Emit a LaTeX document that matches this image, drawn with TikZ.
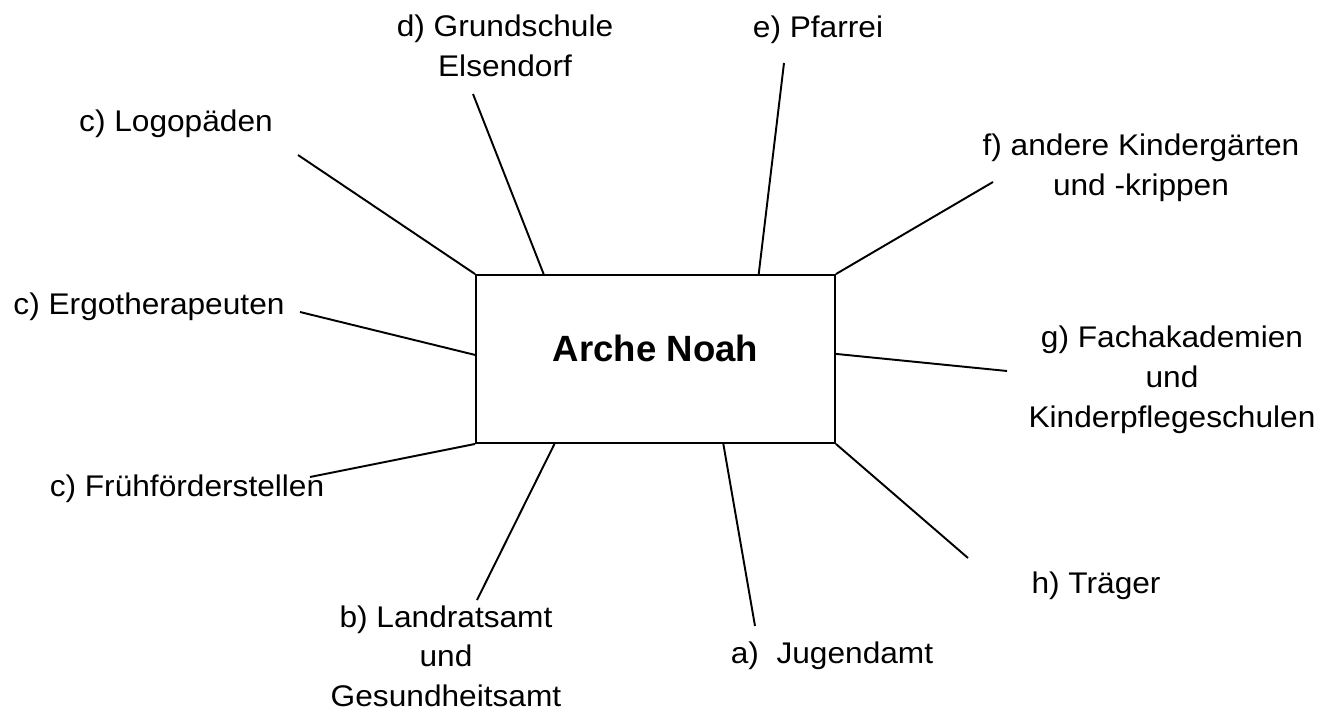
\documentclass[tikz,border=0pt]{standalone}
\usepackage{fontspec}
\setmainfont{Liberation Sans}[FakeStretch=1.06]
\newfontfamily\titlefont{Liberation Sans}
\usepackage{tikz}
\usetikzlibrary{positioning,calc}

\begin{document}
\begin{tikzpicture}[x=0.02cm, y=-0.02cm,
    lbl/.style={inner sep=0pt, align=center, font=\fontsize{17}{22.7}\selectfont},
    spoke/.style={line width=1.1pt}]
    \useasboundingbox (0,0) rectangle (1335,713);
    % center box
    \node [rectangle, draw, line width=1.1pt, minimum width=7.18cm, minimum height=3.36cm] (noah) at (655.5,359) {};
    \node [inner sep=0pt, font=\titlefont\bfseries\fontsize{20.8}{25}\selectfont] (noahtext) at (655.5,348) {Arche Noah};
    % labels
    \node [lbl, anchor=base] (logo) at (176,132) {c) Logopäden};
    \node [lbl, anchor=base] (ergo) at (149,314) {c) Ergotherapeuten};
    \node [lbl, anchor=base] (frueh) at (187,496) {c) Frühförderstellen};
    \node [lbl, anchor=north] (grund) at (505,15) {d) Grundschule\\Elsendorf};
    \node [lbl, anchor=base] (pfarrei) at (818,38) {e) Pfarrei};
    \node [lbl, anchor=north] (andere) at (1141,134) {f) andere Kindergärten\\und -krippen};
    \node [lbl, anchor=north] (fach) at (1172,326) {g) Fachakademien\\und\\Kinderpflegeschulen};
    \node [lbl, anchor=north] (land) at (446,605) {b) Landratsamt\\und\\Gesundheitsamt};
    \node [lbl, anchor=base] (jugend) at (832,663) {a)\ \ Jugendamt};
    \node [lbl, anchor=base] (traeger) at (1096,593) {h) Träger};
    % free ends of the spokes
    \coordinate (logoend) at (298,155);
    \coordinate (grundend) at (473,94);
    \coordinate (pfarreiend) at (784,63);
    \coordinate (andereend) at (993,182);
    \coordinate (ergoend) at (300,312);
    \coordinate (fachend) at (1007,371);
    \coordinate (fruehend) at (310,477);
    \coordinate (landend) at (477,600);
    \coordinate (jugendend) at (755,626);
    \coordinate (traegerend) at (968,558);
    % spokes
    \draw [spoke] (noah.north west) -- (logoend);
    \draw [spoke] ($(noah.north west)!0.19!(noah.north east)$) -- (grundend);
    \draw [spoke] ($(noah.north west)!0.786!(noah.north east)$) -- (pfarreiend);
    \draw [spoke] (noah.north east) -- (andereend);
    \draw [spoke] ($(noah.north west)!0.476!(noah.south west)$) -- (ergoend);
    \draw [spoke] ($(noah.north east)!0.47!(noah.south east)$) -- (fachend);
    \draw [spoke] (noah.south west) -- (fruehend);
    \draw [spoke] ($(noah.south west)!0.22!(noah.south east)$) -- (landend);
    \draw [spoke] ($(noah.south west)!0.688!(noah.south east)$) -- (jugendend);
    \draw [spoke] (noah.south east) -- (traegerend);
\end{tikzpicture}
\end{document}
